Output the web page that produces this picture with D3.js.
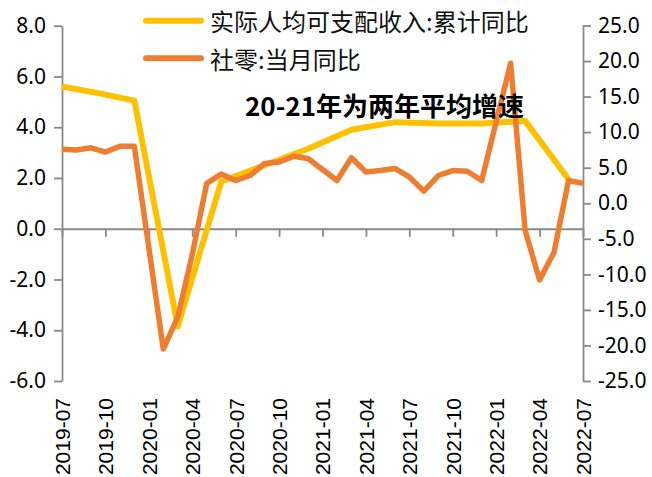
<!DOCTYPE html>
<html>
<head>
<meta charset="utf-8">
<script src="https://d3js.org/d3.v7.min.js"></script>
<style>
body { margin: 0; background: #fff; }
</style>
</head>
<body>
<svg width="652" height="477"></svg>
<script>

// months on the category axis
var months = ["2019-07","2019-08","2019-09","2019-10","2019-11","2019-12",
              "2020-01","2020-02","2020-03","2020-04","2020-05","2020-06",
              "2020-07","2020-08","2020-09","2020-10","2020-11","2020-12",
              "2021-01","2021-02","2021-03","2021-04","2021-05","2021-06",
              "2021-07","2021-08","2021-09","2021-10","2021-11","2021-12",
              "2022-01","2022-02","2022-03","2022-04","2022-05","2022-06",
              "2022-07"];

var tickMonths = ["2019-07","2019-10","2020-01","2020-04","2020-07","2020-10",
                  "2021-01","2021-04","2021-07","2021-10","2022-01","2022-04","2022-07"];

// 实际人均可支配收入:累计同比 (left axis, quarterly)
var income = [5.6, null, 5.4, null, null, 5.05,
              null, null, -3.85, null, null, 1.85,
              null, null, 2.5, null, null, 3.15,
              null, null, 3.9, null, null, 4.2,
              null, null, 4.15, null, null, 4.15,
              null, null, 4.25, null, null, 1.95,
              null];

// 社零:当月同比 (right axis)
var retail = [7.6, 7.5, 7.8, 7.2, 8.0, 8.0,
              null, -20.5, -16.0, -7.2, 2.8, 4.1,
              3.2, 3.9, 5.6, 5.8, 6.6, 6.3,
              null, 3.2, 6.4, 4.4, 4.6, 4.9,
              3.7, 1.7, 3.9, 4.6, 4.5, 3.2,
              null, 19.7, -3.8, -10.8, -6.9, 3.2,
              2.8];

var leftTicks = [8, 6, 4, 2, 0, -2, -4, -6];
var rightTicks = [25, 20, 15, 10, 5, 0, -5, -10, -15, -20, -25];

var names = ["实际人均可支配收入:累计同比", "社零:当月同比"];
var colors = ["#FFC000", "#ED7D31"];

var svg = d3.select("svg");
var axisColor = "#898989";
var numFont = "'Noto Sans', sans-serif";
var cjkFont = "'Noto Sans CJK SC', sans-serif";

var xScale = d3.scalePoint().domain(months).range([62, 583]);
var yLeft = d3.scaleLinear().domain([-6, 8]).range([381, 25.7]);
var yRight = d3.scaleLinear().domain([-25, 25]).range([381, 25.5]);

// plain hyphen for negatives, as in the original
var fmt = function (d) { return d.toFixed(1); };

function styleAxis(g) {
    g.selectAll("path, line").attr("stroke", axisColor).attr("stroke-width", 1.8);
    g.selectAll("text").attr("fill", "#000").style("font-family", numFont).style("font-size", "21px");
}

// left axis
svg.append("g")
    .attr("transform", "translate(62,0)")
    .call(d3.axisLeft(yLeft).tickValues(leftTicks).tickSize(8).tickSizeOuter(0).tickPadding(8)
          .tickFormat(fmt))
    .call(styleAxis);

// right axis
svg.append("g")
    .attr("transform", "translate(583,0)")
    .call(d3.axisRight(yRight).tickValues(rightTicks).tickSize(8).tickSizeOuter(0).tickPadding(7)
          .tickFormat(fmt))
    .call(styleAxis);

// x axis at zero of the left scale
var xAxis = svg.append("g")
    .attr("transform", "translate(0," + yLeft(0) + ")")
    .call(d3.axisBottom(xScale).tickValues(tickMonths).tickSize(8).tickSizeOuter(0))
    .call(styleAxis);

xAxis.selectAll("text")
    .style("font-family", "'Liberation Sans', Arial, sans-serif")
    .attr("transform", "rotate(-90)")
    .attr("text-anchor", "end")
    .attr("x", -(398 - yLeft(0)))
    .attr("y", 0)
    .attr("dy", "0.35em");

// lines, gaps are bridged like in the original
function points(values) {
    return months.map(function (m, i) { return [m, values[i]]; })
                 .filter(function (d) { return d[1] != null; });
}

var lineLeft = d3.line()
    .x(function (d) { return xScale(d[0]); })
    .y(function (d) { return yLeft(d[1]); });

var lineRight = d3.line()
    .x(function (d) { return xScale(d[0]); })
    .y(function (d) { return yRight(d[1]); });

svg.append("path")
    .datum(points(income))
    .attr("d", lineLeft)
    .attr("fill", "none")
    .attr("stroke", colors[0])
    .attr("stroke-width", 6)
    .attr("stroke-linejoin", "round");

svg.append("path")
    .datum(points(retail))
    .attr("d", lineRight)
    .attr("fill", "none")
    .attr("stroke", colors[1])
    .attr("stroke-width", 5.5)
    .attr("stroke-linejoin", "round");

// legend
var legend = svg.selectAll(".legend").data(names)
    .enter().append("g")
    .attr("class", "legend")
    .attr("transform", function (d, i) { return "translate(0," + (i == 0 ? 20.7 : 58.3) + ")"; });

legend.append("line")
    .attr("x1", 146).attr("x2", 201)
    .attr("stroke", function (d, i) { return colors[i]; })
    .attr("stroke-width", 6)
    .attr("stroke-linecap", "round");

legend.append("text")
    .attr("x", 210)
    .attr("y", 10.5)
    .style("font-family", cjkFont)
    .style("font-size", "24px")
    .attr("fill", "#111")
    .text(function (d) { return d; });

// note
svg.append("text")
    .attr("x", 245)
    .attr("y", 116)
    .style("font-family", cjkFont)
    .style("font-size", "26px")
    .style("font-weight", "bold")
    .attr("fill", "#000")
    .text("20-21年为两年平均增速");

</script>
</body>
</html>
